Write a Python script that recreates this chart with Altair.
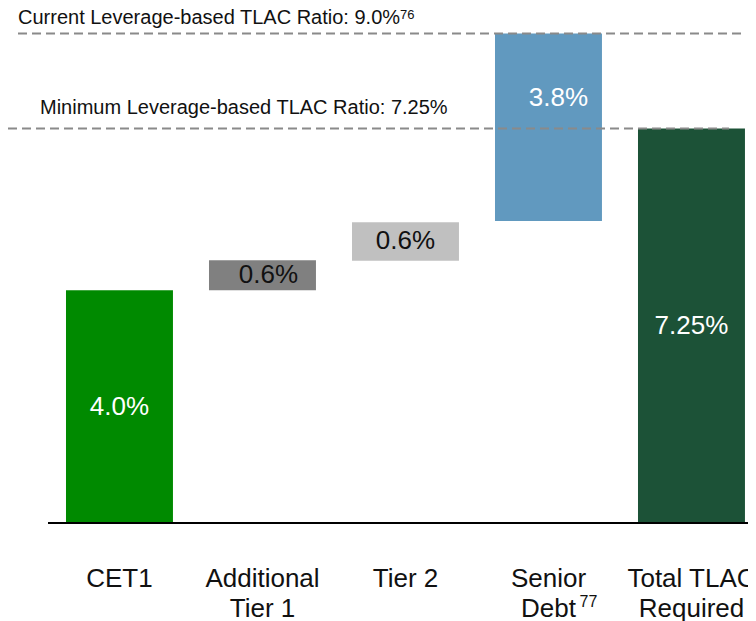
import altair as alt
import pandas as pd

# ---- data ----
categories = ["CET1", "Additional Tier 1", "Tier 2", "Senior Debt", "Total TLAC Required"]
axis_labels = ["CET1", "Additional\nTier 1", "Tier 2", "Senior\nDebt", "Total TLAC\nRequired"]
bar_start = [0.0, 4.28, 4.82, 5.55, 0.0]
bar_end = [4.28, 4.83, 5.53, 9.0, 7.25]
value_labels = ["4.0%", "0.6%", "0.6%", "3.8%", "7.25%"]
label_colors = ["#ffffff", "#111111", "#111111", "#ffffff", "#ffffff"]
bar_colors = ["#008a00", "#808080", "#c0c0c0", "#6199bf", "#1c5237"]

ref_values = [9.0, 7.25]
ref_texts = ["Current Leverage-based TLAC Ratio: 9.0%", "Minimum Leverage-based TLAC Ratio: 7.25%"]
ref_notes = ["76", ""]
debt_note = "77"

FONT = "Liberation Sans"

bars_df = pd.DataFrame({
    "cat": categories,
    "axis_label": axis_labels,
    "start": bar_start,
    "end": bar_end,
    "label": value_labels,
    "label_color": label_colors,
    "bar_color": bar_colors,
})
bars_df["mid"] = (bars_df["start"] + bars_df["end"]) / 2

ref_df = pd.DataFrame({"value": ref_values, "text": ref_texts, "note": ref_notes})

xscale = alt.Scale(domain=categories, paddingInner=0.252, paddingOuter=0.2134, align=0.9502)
yscale = alt.Scale(domain=[-1.654, 9.467], nice=False, zero=False, range=[605, 0])

base = alt.Chart(bars_df)
X = alt.X("cat:N", scale=xscale, axis=None, sort=categories)

bars = base.mark_bar().encode(
    x=X,
    y=alt.Y("start:Q", scale=yscale, axis=None),
    y2="end:Q",
    color=alt.Color("bar_color:N", scale=None, legend=None),
)

def value_text(filter_expr, dx=0, dy=0):
    return base.transform_filter(filter_expr).mark_text(
        font=FONT, fontSize=26, baseline="middle", align="center", dx=dx, dy=dy
    ).encode(
        x=X,
        y=alt.Y("mid:Q", scale=yscale, axis=None),
        text="label:N",
        color=alt.Color("label_color:N", scale=None, legend=None),
    )

labels_plain = value_text("datum.cat == 'CET1' || datum.cat == 'Tier 2' || datum.cat == 'Total TLAC Required'")
labels_at1 = value_text("datum.cat == 'Additional Tier 1'", dx=6)
labels_senior = value_text("datum.cat == 'Senior Debt'", dx=10, dy=-29)

axis_text = base.mark_text(
    font=FONT, fontSize=26, baseline="alphabetic", align="center", lineBreak="\n", lineHeight=30, color="#111111"
).encode(
    x=X,
    y=alt.value(579),
    text="axis_label:N",
)

debt_sup = base.transform_filter("datum.cat == 'Senior Debt'").mark_text(
    font=FONT, fontSize=16, baseline="alphabetic", align="left", dx=31, color="#111111"
).encode(
    x=X,
    y=alt.value(599),
    text=alt.value(debt_note),
)

baseline = alt.Chart(pd.DataFrame({"v": [0.0]})).mark_rule(color="#000000", strokeWidth=2).encode(
    y=alt.Y("v:Q", scale=yscale, axis=None),
    x=alt.value(40),
    x2=alt.value(740),
)

ref_base = alt.Chart(ref_df)
rule_top = ref_base.transform_filter("datum.value == 9.0").mark_rule(
    color="#8a8a8a", strokeWidth=2, strokeDash=[9, 5]
).encode(
    y=alt.Y("value:Q", scale=yscale, axis=None),
    x=alt.value(10),
    x2=alt.value(734),
)
rule_min = ref_base.transform_filter("datum.value == 7.25").mark_rule(
    color="#8a8a8a", strokeWidth=2, strokeDash=[9, 5]
).encode(
    y=alt.Y("value:Q", scale=yscale, axis=None),
    x=alt.value(0),
    x2=alt.value(721),
)
text_top = ref_base.transform_filter("datum.value == 9.0").mark_text(
    font=FONT, fontSize=20, baseline="alphabetic", align="left", dy=-9, color="#111111"
).encode(
    y=alt.Y("value:Q", scale=yscale, axis=None),
    x=alt.value(10),
    text="text:N",
)
note_top = ref_base.transform_filter("datum.value == 9.0").mark_text(
    font=FONT, fontSize=13, baseline="alphabetic", align="left", dy=-14, color="#111111"
).encode(
    y=alt.Y("value:Q", scale=yscale, axis=None),
    x=alt.value(392),
    text="note:N",
)
text_min = ref_base.transform_filter("datum.value == 7.25").mark_text(
    font=FONT, fontSize=20, baseline="alphabetic", align="left", dy=-15, color="#111111"
).encode(
    y=alt.Y("value:Q", scale=yscale, axis=None),
    x=alt.value(32),
    text="text:N",
)

chart = alt.layer(
    bars, baseline, rule_top, rule_min, text_top, note_top, text_min,
    labels_plain, labels_at1, labels_senior, axis_text, debt_sup,
).properties(
    width=740, height=613,
    autosize=alt.AutoSizeParams(type="none"),
    padding=0,
    background="#ffffff",
).configure_view(stroke=None)

chart.save("out.html", embed_options={"renderer": "svg", "actions": False})
